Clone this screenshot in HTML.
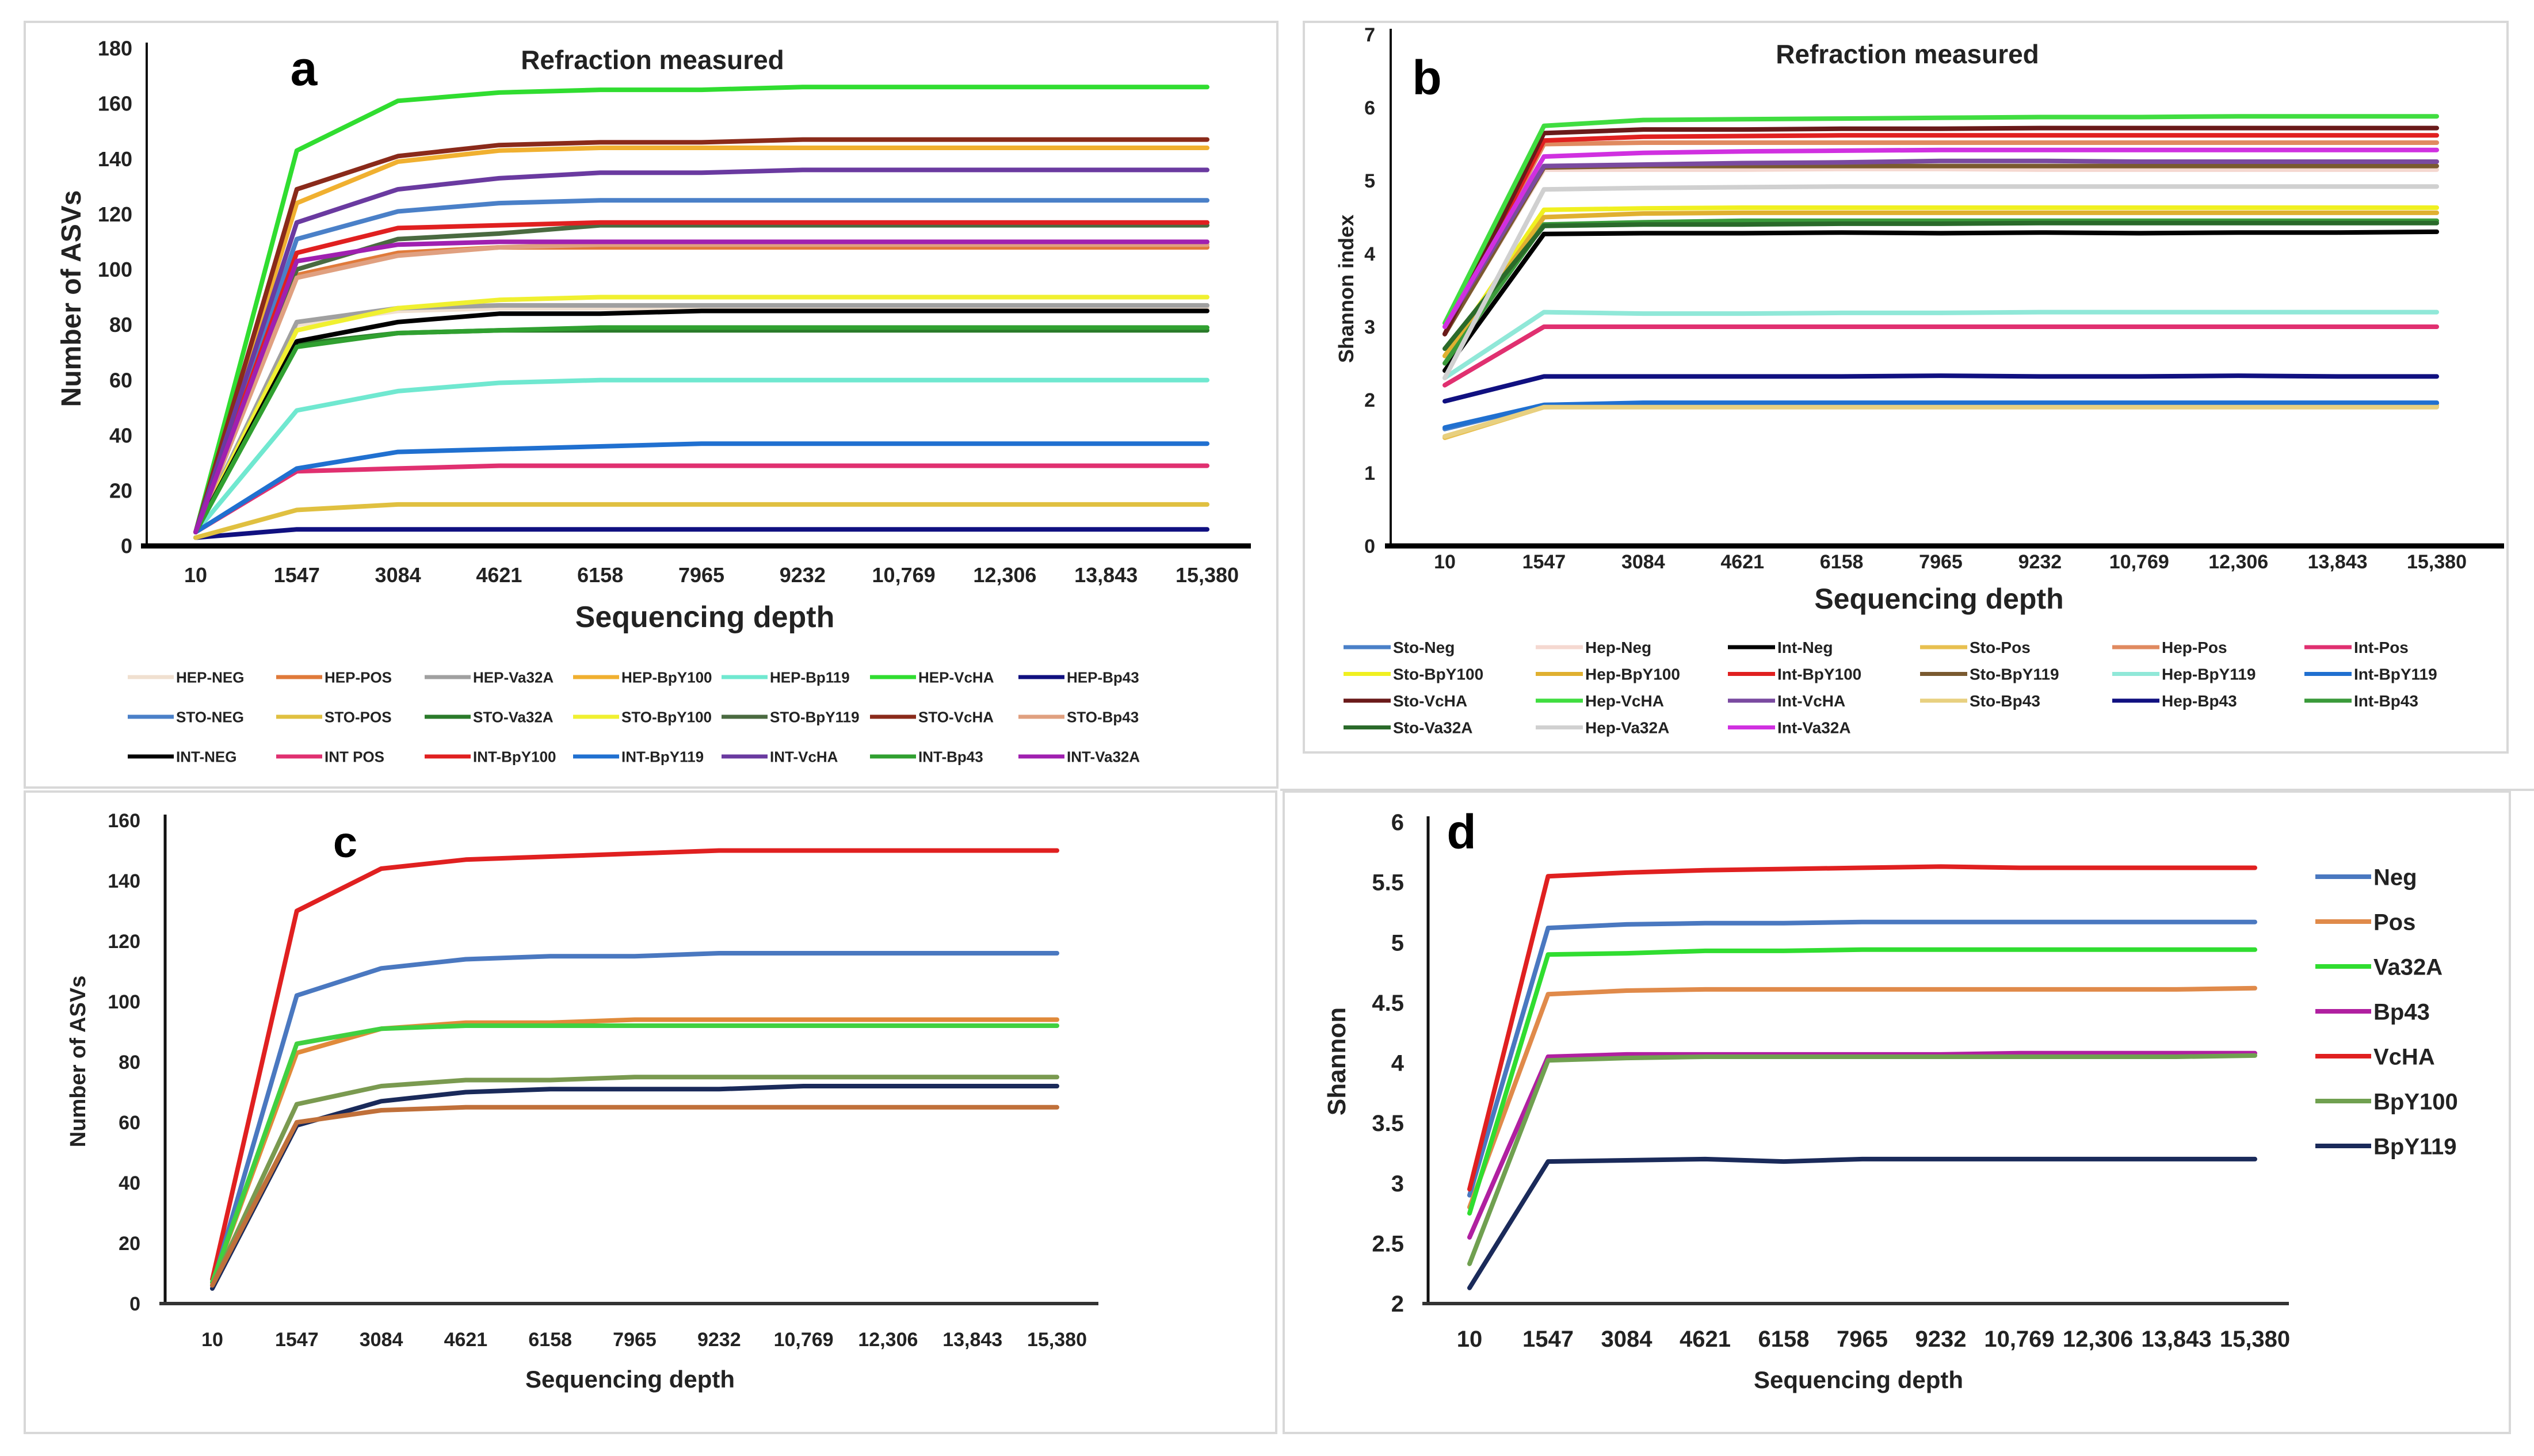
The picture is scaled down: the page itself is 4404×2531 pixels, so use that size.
<!DOCTYPE html>
<html><head><meta charset="utf-8"><style>
html,body{margin:0;padding:0;background:#fff;}
svg{display:block;font-family:"Liberation Sans",sans-serif;}
</style></head><body>
<svg id="fig" width="4404" height="2531" viewBox="0 0 4404 2531" xmlns="http://www.w3.org/2000/svg">
<rect x="0" y="0" width="4404" height="2531" fill="#fff"/>
<rect x="43" y="38" width="2177" height="1331" fill="none" stroke="#d8d8d8" stroke-width="4"/>
<rect x="2266" y="38" width="2092" height="1270" fill="none" stroke="#d8d8d8" stroke-width="4"/>
<line x1="2225" y1="1373" x2="4404" y2="1373" stroke="#d8d8d8" stroke-width="4"/>
<rect x="43" y="1376" width="2175" height="1115" fill="none" stroke="#d8d8d8" stroke-width="4"/>
<rect x="2231" y="1376" width="2131" height="1115" fill="none" stroke="#d8d8d8" stroke-width="4"/>
</svg>
<script>
const categories = ["10","1547","3084","4621","6158","7965","9232","10,769","12,306","13,843","15,380"];

// Panel a
const aNames = ["HEP-NEG","HEP-POS","HEP-Va32A","HEP-BpY100","HEP-Bp119","HEP-VcHA","HEP-Bp43","STO-NEG","STO-POS","STO-Va32A","STO-BpY100","STO-BpY119","STO-VcHA","STO-Bp43","INT-NEG","INT POS","INT-BpY100","INT-BpY119","INT-VcHA","INT-Bp43","INT-Va32A"];
const aColors = ["#f0e0d0","#e07a3a","#a0a0a0","#f0b030","#70e8d0","#30dd30","#101080","#4a80c8","#e0c040","#2a7a2a","#f0f030","#4a6a40","#8a2a1a","#e0a080","#000000","#e03070","#e02020","#2070d0","#6a3aa0","#30a030","#a020b0"];
const aValues = [
[5,80,85,86,86,86,86,86,86,86,86],
[5,98,106,108,108,108,108,108,108,108,108],
[5,81,86,87,87,87,87,87,87,87,87],
[5,124,139,143,144,144,144,144,144,144,144],
[5,49,56,59,60,60,60,60,60,60,60],
[5,143,161,164,165,165,166,166,166,166,166],
[3,6,6,6,6,6,6,6,6,6,6],
[5,111,121,124,125,125,125,125,125,125,125],
[3,13,15,15,15,15,15,15,15,15,15],
[5,73,77,78,78,78,78,78,78,78,78],
[5,78,86,89,90,90,90,90,90,90,90],
[5,100,111,113,116,116,116,116,116,116,116],
[5,129,141,145,146,146,147,147,147,147,147],
[5,97,105,108,109,109,109,109,109,109,109],
[5,74,81,84,84,85,85,85,85,85,85],
[5,27,28,29,29,29,29,29,29,29,29],
[5,106,115,116,117,117,117,117,117,117,117],
[5,28,34,35,36,37,37,37,37,37,37],
[5,117,129,133,135,135,136,136,136,136,136],
[5,72,77,78,79,79,79,79,79,79,79],
[5,103,109,110,110,110,110,110,110,110,110]];
const aTicks = [0,20,40,60,80,100,120,140,160,180];

// Panel b
const bNames = ["Sto-Neg","Hep-Neg","Int-Neg","Sto-Pos","Hep-Pos","Int-Pos","Sto-BpY100","Hep-BpY100","Int-BpY100","Sto-BpY119","Hep-BpY119","Int-BpY119","Sto-VcHA","Hep-VcHA","Int-VcHA","Sto-Bp43","Hep-Bp43","Int-Bp43","Sto-Va32A","Hep-Va32A","Int-Va32A"];
const bColors = ["#4a80c8","#f5d8d0","#000000","#e8c050","#e08a60","#e03070","#f0f020","#e0b030","#e02020","#7a5a30","#90e8d8","#2070d0","#6a1a1a","#40dd40","#7a4aa0","#e8d080","#101080","#3a9a3a","#2a6a2a","#d0d0d0","#d030e0"];
const bValues = [
[1.6,1.93,1.95,1.95,1.95,1.95,1.95,1.95,1.95,1.95,1.95],
[2.9,5.15,5.15,5.15,5.16,5.16,5.15,5.15,5.15,5.15,5.15],
[2.4,4.27,4.28,4.28,4.29,4.28,4.29,4.28,4.29,4.29,4.3],
[1.48,1.9,1.92,1.92,1.92,1.92,1.92,1.92,1.92,1.92,1.92],
[2.9,5.5,5.52,5.52,5.52,5.52,5.52,5.52,5.52,5.52,5.52],
[2.2,3.0,3.0,3.0,3.0,3.0,3.0,3.0,3.0,3.0,3.0],
[2.6,4.6,4.62,4.63,4.63,4.63,4.63,4.63,4.63,4.63,4.63],
[2.6,4.5,4.55,4.56,4.56,4.56,4.56,4.56,4.56,4.56,4.56],
[2.9,5.55,5.6,5.61,5.62,5.62,5.62,5.62,5.62,5.62,5.62],
[2.9,5.18,5.2,5.2,5.2,5.2,5.2,5.2,5.2,5.2,5.2],
[2.3,3.2,3.18,3.18,3.19,3.19,3.2,3.2,3.2,3.2,3.2],
[1.62,1.93,1.96,1.96,1.96,1.96,1.96,1.96,1.96,1.96,1.96],
[2.9,5.65,5.7,5.7,5.71,5.71,5.72,5.72,5.72,5.72,5.72],
[3.05,5.75,5.83,5.84,5.85,5.86,5.87,5.87,5.88,5.88,5.88],
[3.0,5.2,5.22,5.24,5.25,5.27,5.27,5.26,5.26,5.26,5.26],
[1.5,1.9,1.9,1.9,1.9,1.9,1.9,1.9,1.9,1.9,1.9],
[1.98,2.32,2.32,2.32,2.32,2.33,2.32,2.32,2.33,2.32,2.32],
[2.5,4.4,4.43,4.45,4.45,4.45,4.45,4.45,4.45,4.45,4.45],
[2.7,4.38,4.4,4.4,4.41,4.41,4.42,4.42,4.42,4.42,4.42],
[2.3,4.88,4.9,4.91,4.92,4.92,4.92,4.92,4.92,4.92,4.92],
[3.0,5.33,5.38,5.4,5.41,5.42,5.42,5.42,5.42,5.42,5.42]];
const bTicks = [0,1,2,3,4,5,6,7];

// Panel c
const cNames = ["VcHA","Neg","Pos","Va32A","BpY100","BpY119","Bp43"];
const cColors = ["#e02020","#4a78c0","#e08a3a","#40d040","#7a9a50","#1a2a5a","#c0703a"];
const cValues = [
[8,130,144,147,148,149,150,150,150,150,150],
[6,102,111,114,115,115,116,116,116,116,116],
[7,83,91,93,93,94,94,94,94,94,94],
[7,86,91,92,92,92,92,92,92,92,92],
[6,66,72,74,74,75,75,75,75,75,75],
[5,59,67,70,71,71,71,72,72,72,72],
[6,60,64,65,65,65,65,65,65,65,65]];
const cTicks = [0,20,40,60,80,100,120,140,160];

// Panel d
const dNames = ["Neg","Pos","Va32A","Bp43","VcHA","BpY100","BpY119"];
const dColors = ["#4a78c0","#e08a4a","#30dd30","#b020a0","#e02020","#70a050","#1a2a5a"];
const dValues = [
[2.9,5.12,5.15,5.16,5.16,5.17,5.17,5.17,5.17,5.17,5.17],
[2.8,4.57,4.6,4.61,4.61,4.61,4.61,4.61,4.61,4.61,4.62],
[2.75,4.9,4.91,4.93,4.93,4.94,4.94,4.94,4.94,4.94,4.94],
[2.55,4.05,4.07,4.07,4.07,4.07,4.07,4.08,4.08,4.08,4.08],
[2.95,5.55,5.58,5.6,5.61,5.62,5.63,5.62,5.62,5.62,5.62],
[2.33,4.02,4.04,4.05,4.05,4.05,4.05,4.05,4.05,4.05,4.06],
[2.13,3.18,3.19,3.2,3.18,3.2,3.2,3.2,3.2,3.2,3.2]];
const dTicks = [2,2.5,3,3.5,4,4.5,5,5.5,6];
const dTickLabels = ["2","2.5","3","3.5","4","4.5","5","5.5","6"];

const NS = "http://www.w3.org/2000/svg";
const svg = document.getElementById("fig");
function mk(tag, attrs, parent, txt){
  const e = document.createElementNS(NS, tag);
  for (const k in attrs) e.setAttribute(k, attrs[k]);
  if (txt !== undefined) e.textContent = txt;
  (parent || svg).appendChild(e);
  return e;
}

function drawPanel(p){
  const g = mk("g", {});
  
  
  const xs = i => p.x0 + i * (p.x1 - p.x0) / (categories.length - 1);
  const ys = v => p.yB - (v - p.vMin) / (p.vMax - p.vMin) * (p.yB - p.yT);
  // axes
  const ya = mk("line", {x1:p.ax, y1:p.yT - 10, x2:p.ax, y2:p.yB, stroke:"#111", "stroke-width":p.yAxisW}, g);
  
  
  const xa = mk("line", {x1:p.ax - 10, y1:p.yB, x2:p.axEnd, y2:p.yB, stroke:p.xAxisColor, "stroke-width":p.xAxisW}, g);
  
  
  // y ticks
  p.ticks.forEach((t, i) => {
    const tl = mk("text", {x:p.tickX, y:ys(t) + p.tickFs * 0.35, "text-anchor":"end", "font-size":p.tickFs, "font-weight":"bold", fill:"#222"}, g, p.tickLabels ? p.tickLabels[i] : String(t));
    
    
  });
  // x ticks
  categories.forEach((c, i) => {
    const tl = mk("text", {x:xs(i), y:p.xTickY, "text-anchor":"middle", "font-size":p.tickFs, "font-weight":"bold", fill:"#222"}, g, c);
    
    
  });
  // series
  p.values.forEach((vals, s) => {
    const pts = vals.map((v, i) => xs(i).toFixed(1) + "," + ys(v).toFixed(1)).join(" ");
    const pl = mk("polyline", {points:pts, fill:"none", stroke:p.colors[s], "stroke-width":p.lineW, "stroke-linejoin":"round", "stroke-linecap":"round"}, g);
    
    
  });
  // titles
  const xt = mk("text", {x:p.xTitleX, y:p.xTitleY, "text-anchor":"middle", "font-size":p.xTitleFs, "font-weight":"bold", fill:"#222"}, g, "Sequencing depth");
  
  
  const yt = mk("text", {x:0, y:0, transform:"translate(" + p.yTitleX + "," + p.yTitleY + ") rotate(-90)", "text-anchor":"middle", "font-size":p.yTitleFs, "font-weight":"bold", fill:"#222"}, g, p.yTitle);
  
  
  const lt = mk("text", {x:p.letterX, y:p.letterY, "text-anchor":"middle", "font-size":p.letterFs, "font-weight":"bold", fill:"#000"}, g, p.letter);
  
  
  if (p.heading){
    const h = mk("text", {x:p.headX, y:p.headY, "text-anchor":"middle", "font-size":46, "font-weight":"bold", fill:"#222"}, g, p.heading);
    
    
  }
  // legend
  p.names.forEach((n, s) => {
    const col = p.legCols ? s % p.legCols : 0;
    const row = p.legCols ? Math.floor(s / p.legCols) : s;
    const lx = p.legX + col * p.legDx, ly = p.legY + row * p.legDy;
    const lg = mk("g", {}, g);
    
    
    mk("line", {x1:lx, y1:ly, x2:lx + p.legLen, y2:ly, stroke:p.colors[s], "stroke-width":p.legW}, lg);
    mk("text", {x:lx + p.legLen + 4, y:ly + p.legFs * 0.36, "font-size":p.legFs, "font-weight":"bold", fill:"#222"}, lg, n);
  });
}

drawPanel({id:"panel-a", names:aNames, colors:aColors, values:aValues, ticks:aTicks,
  x0:340, x1:2098, yT:84, yB:949, vMin:0, vMax:180, ax:255, axEnd:2174, yAxisW:4, xAxisW:9, xAxisColor:"#000",
  tickX:230, tickFs:36, xTickY:1012, lineW:8,
  xTitleX:1225, xTitleY:1090, xTitleFs:52, yTitle:"Number of ASVs", yTitleX:140, yTitleY:519, yTitleFs:48,
  letter:"a", letterX:528, letterY:148, letterFs:84, heading:"Refraction measured", headX:1134, headY:120,
  legX:222, legY:1177, legDx:258, legDy:69, legLen:80, legW:7, legFs:26, legCols:7});

drawPanel({id:"panel-b", names:bNames, colors:bColors, values:bValues, ticks:bTicks,
  x0:2511, x1:4235, yT:60, yB:949, vMin:0, vMax:7, ax:2417, axEnd:4352, yAxisW:4, xAxisW:9, xAxisColor:"#000",
  tickX:2390, tickFs:34, xTickY:988, lineW:8,
  xTitleX:3370, xTitleY:1058, xTitleFs:50, yTitle:"Shannon index", yTitleX:2352, yTitleY:502, yTitleFs:36,
  letter:"b", letterX:2480, letterY:164, letterFs:84, heading:"Refraction measured", headX:3315, headY:110,
  legX:2335, legY:1125, legDx:334, legDy:46.5, legLen:82, legW:7, legFs:28, legCols:6});

drawPanel({id:"panel-c", names:cNames, colors:cColors, values:cValues, ticks:cTicks,
  x0:369, x1:1837, yT:1426, yB:2266, vMin:0, vMax:160, ax:287, axEnd:1909, yAxisW:5, xAxisW:6, xAxisColor:"#333",
  tickX:244, tickFs:34, xTickY:2340, lineW:8,
  xTitleX:1095, xTitleY:2412, xTitleFs:42, yTitle:"Number of ASVs", yTitleX:148, yTitleY:1845, yTitleFs:38,
  letter:"c", letterX:600, letterY:1490, letterFs:76,
  legX:-9999, legY:-9999, legDx:0, legDy:0, legLen:0, legW:0, legFs:0, legCols:0});

drawPanel({id:"panel-d", names:dNames, colors:dColors, values:dValues, ticks:dTicks, tickLabels:dTickLabels,
  x0:2554, x1:3919, yT:1429, yB:2266, vMin:2, vMax:6, ax:2482, axEnd:3978, yAxisW:5, xAxisW:6, xAxisColor:"#333",
  tickX:2440, tickFs:40, xTickY:2341, lineW:8,
  xTitleX:3230, xTitleY:2413, xTitleFs:42, yTitle:"Shannon", yTitleX:2338, yTitleY:1845, yTitleFs:44,
  letter:"d", letterX:2540, letterY:1475, letterFs:84,
  legX:4024, legY:1524, legDx:0, legDy:78, legLen:97, legW:8, legFs:40, legCols:0});
</script>
</body></html>
